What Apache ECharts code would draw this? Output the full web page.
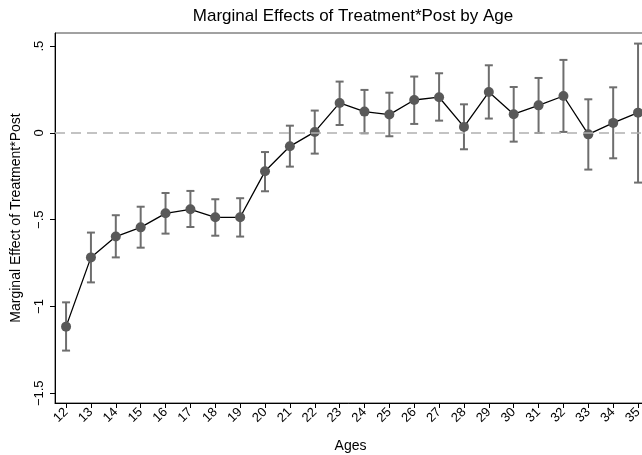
<!DOCTYPE html>
<html>
<head>
<meta charset="utf-8">
<script src="https://cdn.jsdelivr.net/npm/echarts@6/dist/echarts.min.js"></script>
<style>
  html, body { margin: 0; padding: 0; background: #fff; }
  #chart { width: 642px; height: 455px; }
</style>
</head>
<body>
<div id="chart"></div>
<script>
// ages on the x axis
var ages = [12, 13, 14, 15, 16, 17, 18, 19, 20, 21, 22, 23, 24, 25, 26, 27, 28, 29, 30, 31, 32, 33, 34, 35]
// marginal effect estimates
var effect = [-1.116, -0.717, -0.597, -0.544, -0.463, -0.440, -0.486, -0.486, -0.221, -0.077, 0.006, 0.173,
  0.123, 0.106, 0.190, 0.206, 0.035, 0.236, 0.108, 0.159, 0.213, -0.008, 0.058, 0.117]
// confidence interval upper / lower
var ciHigh = [-0.976, -0.574, -0.474, -0.425, -0.346, -0.334, -0.382, -0.376, -0.110, 0.042, 0.129, 0.296,
  0.248, 0.232, 0.325, 0.344, 0.165, 0.390, 0.265, 0.317, 0.421, 0.194, 0.263, 0.515]
var ciLow = [-1.254, -0.861, -0.717, -0.661, -0.580, -0.542, -0.592, -0.597, -0.336, -0.194, -0.119, 0.046,
  -0.002, -0.019, 0.052, 0.071, -0.094, 0.083, -0.050, 0.000, 0.006, -0.211, -0.146, -0.286]
// y tick labels
var yTicks = [-1.5, -1, -0.5, 0, 0.5]
var yTickLabels = ['\u22121.5', '\u22121', '\u2212.5', '0', '.5']

let font = 'Liberation Sans, Arial, sans-serif'
let chart = echarts.init(document.getElementById('chart'))

let pointData = ages.map((a, i) => [a, effect[i]])
let ciData = ages.map((a, i) => [a, ciLow[i], ciHigh[i]])

let option = {
  animation: false,
  title: {
    text: 'Marginal Effects of Treatment*Post by Age',
    left: 348, top: 3, textAlign: 'center',
    textStyle: { fontFamily: font, fontSize: 17, fontWeight: 'normal', color: '#000' }
  },
  grid: {
    left: 55, right: -4, top: 33, bottom: 52,
    outerBoundsMode: 'none',
    show: true, borderColor: '#444', borderWidth: 1
  },
  xAxis: {
    type: 'value',
    min: 11.555, max: 35.32,
    name: 'Ages', nameLocation: 'middle', nameGap: 36,
    nameTextStyle: { fontFamily: font, fontSize: 14, color: '#000' },
    axisLine: { show: true, onZero: false, lineStyle: { color: '#000', width: 1 } },
    axisTick: { show: true, length: 5, customValues: ages, lineStyle: { color: '#000' } },
    axisLabel: {
      customValues: ages, rotate: 45, margin: 7,
      fontFamily: font, fontSize: 13, color: '#000'
    },
    splitLine: { show: false }
  },
  yAxis: {
    type: 'value',
    min: -1.556, max: 0.576,
    name: 'Marginal Effect of Treatment*Post', nameLocation: 'middle', nameGap: 32,
    nameTextStyle: { fontFamily: font, fontSize: 14, color: '#000' },
    axisLine: { show: true, onZero: false, lineStyle: { color: '#000', width: 1 } },
    axisTick: { show: true, length: 5, customValues: yTicks, lineStyle: { color: '#000' } },
    axisLabel: {
      customValues: yTicks, rotate: 90, margin: 9,
      fontFamily: font, fontSize: 13, color: '#000',
      formatter: function (v) {
        let k = yTicks.indexOf(Math.round(v * 10) / 10)
        return k >= 0 ? yTickLabels[k] : ''
      }
    },
    splitLine: { show: false }
  },
  series: [
    {
      type: 'custom',
      data: ciData,
      z: 2,
      renderItem: function (params, api) {
        let x = api.value(0)
        let lo = api.coord([x, api.value(1)])
        let hi = api.coord([x, api.value(2)])
        let w = 4
        let st = { stroke: '#6e6e6e', lineWidth: 2 }
        return {
          type: 'group',
          children: [
            { type: 'line', shape: { x1: lo[0], y1: lo[1], x2: hi[0], y2: hi[1] }, style: st },
            { type: 'line', shape: { x1: hi[0] - w, y1: hi[1], x2: hi[0] + w, y2: hi[1] }, style: st },
            { type: 'line', shape: { x1: lo[0] - w, y1: lo[1], x2: lo[0] + w, y2: lo[1] }, style: st }
          ]
        }
      }
    },
    {
      type: 'line',
      data: pointData,
      z: 3,
      symbol: 'circle',
      symbolSize: 10,
      lineStyle: { color: '#000', width: 1.3 },
      itemStyle: { color: '#595959' },
      markLine: {
        silent: true,
        symbol: 'none',
        label: { show: false },
        lineStyle: { color: '#b0b0b0', type: [10, 6], width: 1.5 },
        data: [{ yAxis: 0 }]
      }
    }
  ]
}
chart.setOption(option)
</script>
</body>
</html>
